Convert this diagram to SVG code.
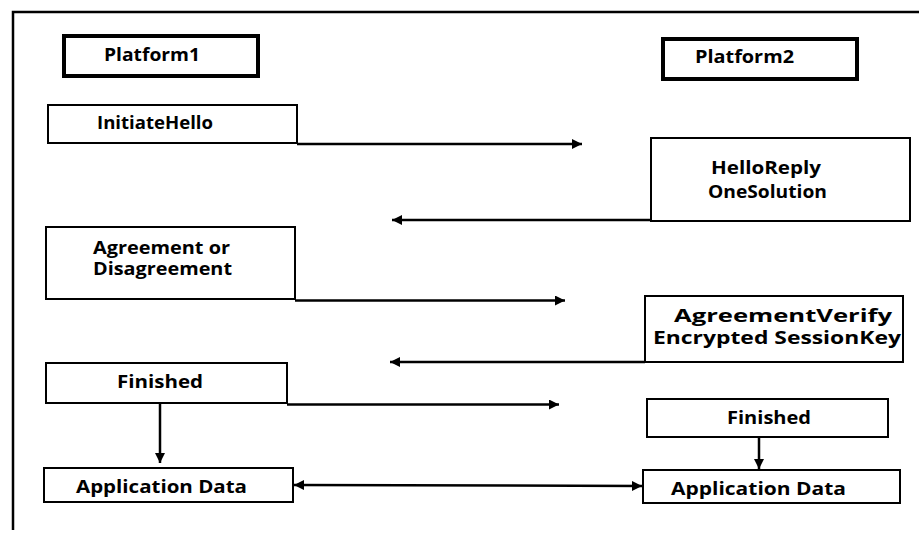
<svg xmlns="http://www.w3.org/2000/svg" width="919" height="535" viewBox="0 0 919 535">
<defs>
<style>
.box{fill:#fff;stroke:#000;stroke-width:2}
.plat{fill:#fff;stroke:#000;stroke-width:4}
.t{font-family:"Open Sans","DejaVu Sans",sans-serif;font-weight:700;font-size:18px;fill:#000}
.s{font-size:17px}
.c{fill:none;stroke:#000;stroke-width:2.5}
</style>
<marker id="ah" viewBox="0 0 10 10" refX="10" refY="5" markerWidth="5" markerHeight="4" orient="auto-start-reverse" markerUnits="strokeWidth">
<path d="M0,0 L10,5 L0,10 Z" fill="#000"/>
</marker>
</defs>
<rect width="919" height="535" fill="#fff"/>
<path d="M919 12 H13 V530" fill="none" stroke="#000" stroke-width="2.5"/>

<g id="platform1">
<rect class="plat" x="64" y="36" width="194" height="40"/>
<text class="t" x="104" y="61" textLength="96" lengthAdjust="spacingAndGlyphs">Platform1</text>
</g>
<g id="platform2">
<rect class="plat" x="663" y="39" width="194" height="40"/>
<text class="t" x="695" y="63" textLength="99" lengthAdjust="spacingAndGlyphs">Platform2</text>
</g>
<g id="initiate-hello">
<rect class="box" x="48" y="105" width="249" height="38"/>
<text class="t" x="97" y="129" textLength="116" lengthAdjust="spacingAndGlyphs">InitiateHello</text>
</g>
<g id="hello-reply">
<rect class="box" x="651" y="138" width="259" height="83"/>
<text class="t" x="711" y="174" textLength="110" lengthAdjust="spacingAndGlyphs">HelloReply</text>
<text class="t" x="708" y="198" textLength="119" lengthAdjust="spacingAndGlyphs">OneSolution</text>
</g>
<g id="agreement">
<rect class="box" x="46" y="227" width="249" height="72"/>
<text class="t s" x="93" y="254" textLength="137" lengthAdjust="spacingAndGlyphs">Agreement or</text>
<text class="t s" x="93" y="275" textLength="139" lengthAdjust="spacingAndGlyphs">Disagreement</text>
</g>
<g id="agreement-verify">
<rect class="box" x="645" y="296" width="258" height="66"/>
<text class="t s" x="674" y="322" textLength="218" lengthAdjust="spacingAndGlyphs">AgreementVerify</text>
<text class="t s" x="653" y="344" textLength="248" lengthAdjust="spacingAndGlyphs">Encrypted SessionKey</text>
</g>
<g id="finished-1">
<rect class="box" x="46" y="363" width="241" height="40"/>
<text class="t" x="117" y="388" textLength="86" lengthAdjust="spacingAndGlyphs">Finished</text>
</g>
<g id="finished-2">
<rect class="box" x="647" y="399" width="241" height="38"/>
<text class="t" x="727" y="424" textLength="84" lengthAdjust="spacingAndGlyphs">Finished</text>
</g>
<g id="app-data-1">
<rect class="box" x="44" y="468" width="249" height="34"/>
<text class="t" x="76" y="493" textLength="171" lengthAdjust="spacingAndGlyphs">Application Data</text>
</g>
<g id="app-data-2">
<rect class="box" x="643" y="470" width="257" height="33"/>
<text class="t" x="671" y="495" textLength="175" lengthAdjust="spacingAndGlyphs">Application Data</text>
</g>

<g id="connectors">
<path class="c" d="M297 144 H582" marker-end="url(#ah)"/>
<path class="c" d="M651 220 H392" marker-end="url(#ah)"/>
<path class="c" d="M295 300.5 H565" marker-end="url(#ah)"/>
<path class="c" d="M645 362 H390" marker-end="url(#ah)"/>
<path class="c" d="M287 404.5 H559" marker-end="url(#ah)"/>
<path class="c" d="M160 404 V463" marker-end="url(#ah)"/>
<path class="c" d="M759 438 V469" marker-end="url(#ah)"/>
<path class="c" d="M294 485 L642 486" marker-start="url(#ah)" marker-end="url(#ah)"/>
</g>
</svg>
